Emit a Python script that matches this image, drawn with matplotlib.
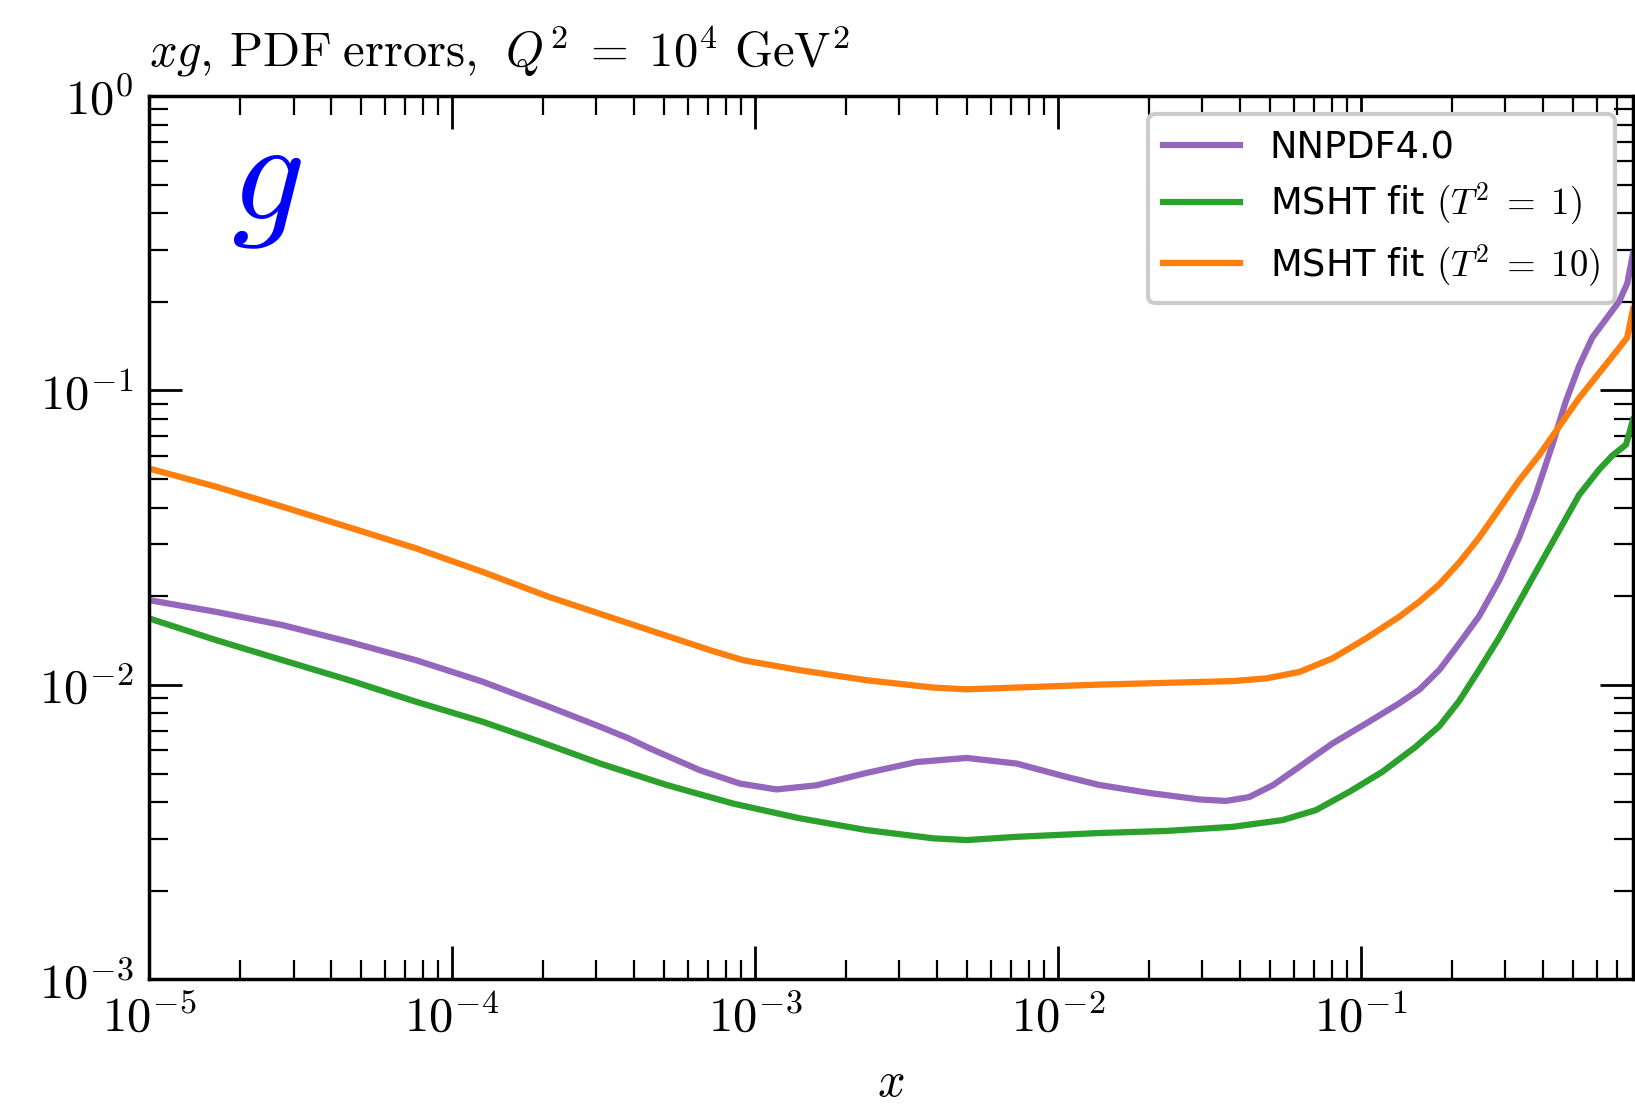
import numpy as np
import matplotlib
matplotlib.use("Agg")
import matplotlib.pyplot as plt
from matplotlib.ticker import FuncFormatter, LogLocator

plt.rcParams['mathtext.fontset'] = 'cm'
plt.rcParams['font.family'] = ['DejaVu Sans']

# values, as log10(x) and log10(error)
# NNPDF4.0
logx_nnpdf = [-5.0, -4.778, -4.559, -4.339, -4.119, -3.899, -3.680, -3.511, -3.416, -3.346,
              -3.181, -3.050, -2.929, -2.797, -2.632, -2.467, -2.302, -2.137, -1.973, -1.863,
              -1.698, -1.533, -1.445, -1.369, -1.291, -1.203, -1.094, -0.983, -0.874, -0.807,
              -0.741, -0.676, -0.610, -0.544, -0.478, -0.423, -0.368, -0.324, -0.280, -0.236,
              -0.192, -0.148, -0.121, -0.102]
logy_nnpdf = [-1.712, -1.752, -1.797, -1.854, -1.916, -1.989, -2.074, -2.142, -2.182, -2.216,
              -2.290, -2.335, -2.355, -2.341, -2.299, -2.262, -2.248, -2.267, -2.312, -2.340,
              -2.367, -2.389, -2.394, -2.381, -2.341, -2.278, -2.199, -2.131, -2.063, -2.016,
              -1.949, -1.860, -1.767, -1.646, -1.500, -1.354, -1.184, -1.038, -0.917, -0.820,
              -0.759, -0.698, -0.637, -0.535]

# MSHT fit, T^2 = 1
logx_msht1 = [-5.0, -4.778, -4.559, -4.339, -4.119, -3.899, -3.723, -3.511, -3.291, -3.072,
              -2.852, -2.632, -2.412, -2.302, -2.137, -1.863, -1.643, -1.423, -1.258, -1.148,
              -1.038, -0.929, -0.819, -0.741, -0.676, -0.610, -0.544, -0.478, -0.412, -0.346,
              -0.280, -0.214, -0.170, -0.125, -0.102]
logy_msht1 = [-1.774, -1.848, -1.916, -1.984, -2.057, -2.125, -2.188, -2.267, -2.340, -2.403,
              -2.453, -2.493, -2.521, -2.527, -2.516, -2.503, -2.496, -2.482, -2.459, -2.425,
              -2.363, -2.295, -2.210, -2.140, -2.055, -1.949, -1.840, -1.719, -1.597, -1.476,
              -1.355, -1.269, -1.221, -1.184, -1.100]

# MSHT fit, T^2 = 10
logx_msht10 = [-5.0, -4.778, -4.559, -4.339, -4.119, -3.899, -3.680, -3.416, -3.145, -3.039,
               -2.852, -2.632, -2.412, -2.302, -2.137, -1.863, -1.643, -1.423, -1.313, -1.203,
               -1.094, -0.983, -0.874, -0.807, -0.741, -0.676, -0.610, -0.544, -0.478, -0.412,
               -0.346, -0.280, -0.214, -0.148, -0.121, -0.102]
logy_msht10 = [-1.265, -1.327, -1.395, -1.465, -1.536, -1.616, -1.701, -1.791, -1.883, -1.916,
               -1.950, -1.984, -2.009, -2.015, -2.009, -1.999, -1.993, -1.987, -1.978, -1.956,
               -1.910, -1.842, -1.769, -1.717, -1.658, -1.585, -1.500, -1.403, -1.306, -1.220,
               -1.123, -1.026, -0.941, -0.856, -0.820, -0.725]

labels = ['NNPDF4.0', r'MSHT fit $(T^2\;=\;1)$', r'MSHT fit $(T^2\;=\;10)$']
colors = ['#9467bd', '#2ca02c', '#ff7f0e']

fig = plt.figure(figsize=(16.35, 11.1), dpi=100)
ax = fig.add_axes([0.0911, 0.1177, 0.9077, 0.7958])

lw = 4.5
series = [(logx_nnpdf, logy_nnpdf), (logx_msht1, logy_msht1), (logx_msht10, logy_msht10)]
for (lx, ly), c, lab in zip(series, colors, labels):
    ax.plot(10 ** np.array(lx), 10 ** np.array(ly), color=c, lw=lw, label=lab,
            solid_joinstyle='round')

ax.set_xscale('log')
ax.set_yscale('log')
ax.set_xlim(1e-5, 0.791)
ax.set_ylim(1e-3, 1)

fmt = FuncFormatter(lambda v, p: r'$10^{%d}$' % int(round(np.log10(v))))
ax.xaxis.set_major_formatter(fmt)
ax.yaxis.set_major_formatter(fmt)
ax.xaxis.set_minor_locator(LogLocator(base=10, subs=np.arange(2, 10)))
ax.yaxis.set_minor_locator(LogLocator(base=10, subs=np.arange(2, 10)))

ax.tick_params(which='both', direction='in', top=True, right=True, labelsize=35)
ax.tick_params(which='major', length=23.5, width=2)
ax.tick_params(which='minor', length=13.5, width=1.6)
ax.tick_params(axis='x', which='major', pad=10)
ax.tick_params(axis='y', which='major', pad=11)
for s in ax.spines.values():
    s.set_linewidth(2.5)

ax.set_xlabel(r'$x$', fontsize=35, labelpad=12)
ax.set_title(r'$xg,\, \mathrm{PDF\;errors},\;\, Q^2\;=\;10^4\ \mathrm{GeV}^2$', loc='left',
             fontsize=35, pad=21)

ax.text(0.079, 0.861, r'$g$', transform=ax.transAxes, color='blue', fontsize=104,
        ha='center', va='baseline')

leg = ax.legend(loc='upper right', fontsize=26.5, handlelength=2.1, labelspacing=0.4,
                framealpha=1, fancybox=True, edgecolor='#cccccc')
leg.get_frame().set_linewidth(3)

fig.savefig('out.png', dpi=100)
